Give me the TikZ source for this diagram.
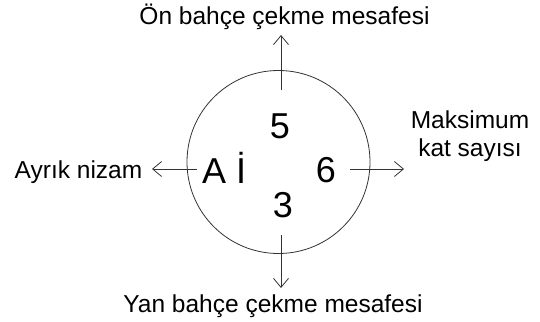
\documentclass[tikz,border=0pt]{standalone}
\usepackage{fontspec}
\setmainfont{Liberation Sans}
\usetikzlibrary{arrows.meta}
\tikzset{
  lbl/.style={inner sep=0pt, anchor=base, font=\fontsize{24.5}{28.3}\selectfont, text=black},
  big/.style={inner sep=0pt, anchor=base, font=\fontsize{36}{40}\selectfont, text=black},
  ring/.style={draw=black!80, line width=0.8pt, circle, minimum size=183pt, inner sep=0pt},
  arr/.style={draw=black!80, line width=0.8pt, -{Straight Barb[length=9pt,width=15pt,line width=0.8pt]}}
}
\begin{document}
\begin{tikzpicture}[x=1pt,y=1pt]
\useasboundingbox (0,0) rectangle (540,-321);
\node[ring] (circ) at (278.5,-162) {};
\node[lbl] (top) at (284.5,-25) {Ön bahçe çekme mesafesi};
\node[lbl] (bot) at (273,-312) {Yan bahçe çekme mesafesi};
\node[lbl] (left) at (78.5,-178) {Ayrık nizam};
\node[lbl, align=center, anchor=base] (right) at (470,-156.7) {Maksimum\\kat sayısı};
\node[big, anchor=base west] (ai) at (202,-183) {A İ};
\node[big] (five) at (280,-138) {5};
\node[big] (six) at (326,-182) {6};
\node[big] (three) at (283,-217) {3};
\coordinate (us) at (281,-90);
\coordinate (ue) at (281,-35);
\coordinate (ds) at (281,-235);
\coordinate (de) at (281,-288);
\coordinate (ls) at (197,-169);
\coordinate (le) at (152,-169);
\coordinate (rs) at (350,-169);
\coordinate (re) at (404,-169);
\draw[arr] (us) -- (ue);
\draw[arr] (ds) -- (de);
\draw[arr] (ls) -- (le);
\draw[arr] (rs) -- (re);
\end{tikzpicture}
\end{document}
